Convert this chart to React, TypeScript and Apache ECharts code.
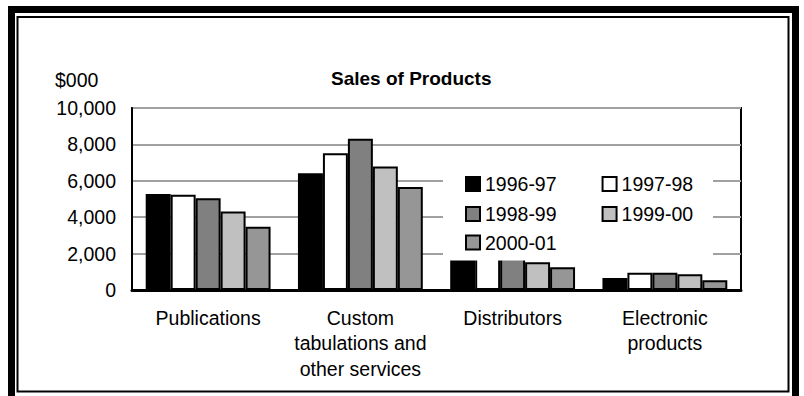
import React, { useEffect, useRef } from "react";
import * as echarts from "echarts";

const categories = [
  "Publications",
  "Custom\ntabulations and\nother services",
  "Distributors",
  "Electronic\nproducts",
];
const seriesNames = ["1996-97", "1997-98", "1998-99", "1999-00", "2000-01"];
const v1996 = [5270, 6410, 1800, 660];
const v1997 = [5240, 7510, 1800, 950];
const v1998 = [5040, 8310, 1800, 950];
const v1999 = [4320, 6780, 1520, 860];
const v2000 = [3480, 5660, 1250, 530];
const seriesValues = [v1996, v1997, v1998, v1999, v2000];
const seriesColors = ["#000000", "#ffffff", "#808080", "#c0c0c0", "#969696"];
const yTicks = { min: 0, max: 10000, interval: 2000 };

const FONT = "Liberation Sans, Arial, sans-serif";

export default function App() {
  const ref = useRef<HTMLDivElement>(null);
  useEffect(() => {
    if (!ref.current) return;
    const chart = echarts.init(ref.current, null, { renderer: "svg" });
    const legendBase = {
      orient: "horizontal",
      itemWidth: 14,
      itemHeight: 14,
      itemGap: 45,
      padding: 0,
      icon: "rect",
      selectedMode: false,
      z: 20,
      textStyle: { fontFamily: FONT, fontSize: 19.5, color: "#000" },
    };
    chart.setOption({
      animation: false,
      backgroundColor: "#ffffff",
      title: {
        text: "Sales of Products",
        left: 331,
        top: 69,
        padding: 0,
        textStyle: { fontFamily: FONT, fontSize: 19, fontWeight: "bold", color: "#000" },
      },
      legend: [
        { ...legendBase, data: [seriesNames[0], seriesNames[1]], left: 465, top: 174 },
        { ...legendBase, data: [seriesNames[2], seriesNames[3]], left: 465, top: 204 },
        { ...legendBase, data: [seriesNames[4]], left: 465, top: 232.5 },
      ],
      grid: {
        left: 132,
        right: 63,
        top: 108,
        bottom: 106,
        show: true,
        borderColor: "#000",
        borderWidth: 2,
        backgroundColor: "transparent",
      },
      xAxis: {
        type: "category",
        data: categories,
        axisLine: { show: true, lineStyle: { color: "#000", width: 3 } },
        axisTick: { show: false },
        axisLabel: {
          interval: 0,
          margin: 15,
          fontFamily: FONT,
          fontSize: 19.5,
          lineHeight: 25.5,
          color: "#000",
        },
      },
      yAxis: {
        type: "value",
        min: yTicks.min,
        max: yTicks.max,
        interval: yTicks.interval,
        axisLine: { show: true, lineStyle: { color: "#000", width: 2 } },
        axisTick: { show: false },
        splitLine: { show: true, lineStyle: { color: "#a0a0a0", width: 2 } },
        axisLabel: {
          margin: 16,
          fontFamily: FONT,
          fontSize: 19.5,
          color: "#000",
          formatter: (v: number) => v.toLocaleString("en-US"),
        },
      },
      series: seriesNames.map((name, i) => ({
        name,
        type: "bar",
        z: 2,
        data: seriesValues[i],
        barGap: "0%",
        barCategoryGap: "18%",
        itemStyle: { color: seriesColors[i], borderColor: "#000", borderWidth: 2 },
      })),
      graphic: {
        z: 10,
        elements: [
          {
            type: "rect",
            z: 10,
            shape: { x: 443, y: 160, width: 270, height: 100.5 },
            style: { fill: "#ffffff" },
          },
          {
            type: "text",
            z: 10,
            left: 55,
            top: 70,
            style: { text: "$000", font: `19.5px ${FONT}`, fill: "#000" },
          },
          {
            type: "rect",
            z: 30,
            shape: { x: 11.5, y: 9.5, width: 784, height: 400 },
            style: { fill: "none", stroke: "#000", lineWidth: 7 },
          },
          {
            type: "rect",
            z: 30,
            shape: { x: 17.5, y: 17, width: 771, height: 374.5 },
            style: { fill: "none", stroke: "#000", lineWidth: 2 },
          },
        ],
      },
    });
    return () => chart.dispose();
  }, []);
  return (
    <div
      ref={ref}
      style={{ position: "fixed", left: 0, top: 0, width: 804, height: 396 }}
    />
  );
}
